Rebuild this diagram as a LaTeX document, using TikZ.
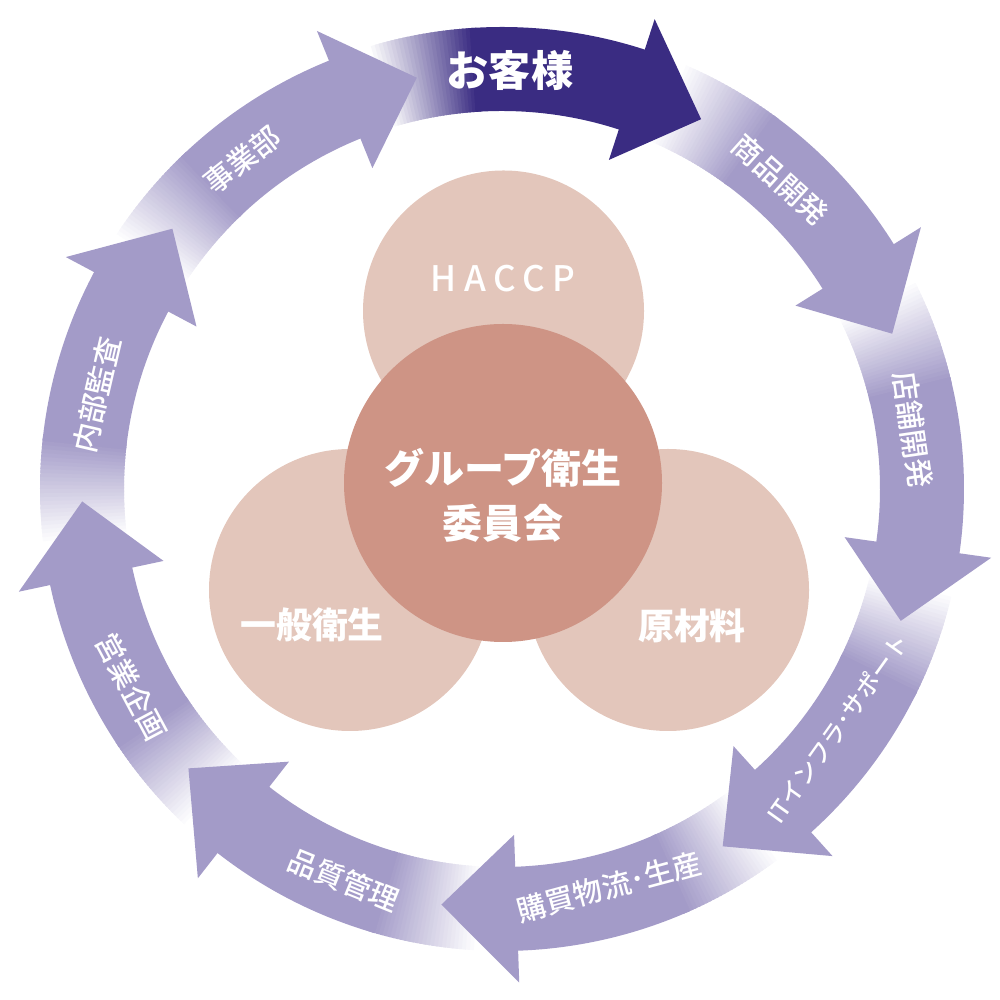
\documentclass[tikz,border=0pt]{standalone}
\usepackage{fontspec}
\setmainfont{Noto Sans CJK JP}
\newfontfamily\medfont{Noto Sans CJK JP Medium}
\newfontfamily\spacedfont[LetterSpace=22]{Noto Sans CJK JP Medium}

\definecolor{ringlav}{HTML}{A39BC8}
\definecolor{ringnavy}{HTML}{3A2C82}
\definecolor{petal}{HTML}{E3C6BB}
\definecolor{core}{HTML}{CE9485}

\newcommand{\ringin}{3.78}
\newcommand{\ringout}{4.62}

\tikzset{
  seglabel/.style={text=white, inner sep=0pt, font=\medfont\fontsize{8.3}{10}\selectfont},
  petallabel/.style={text=white, inner sep=0pt, font=\bfseries\fontsize{10.2}{12}\selectfont},
}

\begin{document}
\begin{tikzpicture}
  \useasboundingbox (-5.02,-5.11) rectangle (4.98,4.89);
  % ring bands, each one fading in from white at its tail
  \foreach \b/\col in {72/ringnavy,32/ringlav,-8/ringlav,-48/ringlav,-88/ringlav,-128/ringlav,-168/ringlav,-208/ringlav,-248/ringlav}{
    \foreach \j in {0,...,26}{
      \pgfmathsetmacro{\pct}{\j*100/26}
      \pgfmathsetmacro{\aa}{\b+35-\j/2}
      \pgfmathsetmacro{\ab}{\b+34.2-\j/2}
      \fill[\col!\pct!white] (\aa:\ringin) arc[start angle=\aa,end angle=\ab,radius=\ringin]
        -- (\ab:\ringout) arc[start angle=\ab,end angle=\aa,radius=\ringout] -- cycle;
    }
    \fill[\col] ({\b+22}:\ringin) arc[start angle=\b+22,end angle=\b-0.5,radius=\ringin]
      -- ({\b-0.5}:\ringout) arc[start angle=\b-0.5,end angle=\b+22,radius=\ringout] -- cycle;
  }
  % arrow heads
  \foreach \b/\col in {72/ringnavy,32/ringlav,-8/ringlav,-48/ringlav,-88/ringlav,-128/ringlav,-168/ringlav,-208/ringlav,-248/ringlav}{
    \fill[\col] (\b:3.46) -- (\b:4.94) -- ({\b-10.3}:4.20) -- cycle;
  }

  \fill[petal] (0.015,1.78) circle (1.405);
  \fill[petal] (-1.52,-1.01) circle (1.41);
  \fill[petal] (1.66,-1.01) circle (1.41);
  \fill[core] (0.01,0.06) circle (1.59);

  \node[seglabel, font=\bfseries\fontsize{12}{14}\selectfont] (okyaku) at (88.9:4.19) {お客様};
  \node[seglabel, rotate=-42] (shohin) at (48:4.16) {商品開発};
  \node[seglabel, rotate=-81.8] (tenpo) at (8.2:4.15) {店舗開発};
  \node[seglabel, rotate=54.5, font=\medfont\fontsize{6.8}{8}\selectfont] (itinfra) at (-35.5:4.12) {ITインフラ･サポート};
  \node[seglabel, rotate=15.1] (kobai) at (-74.9:4.12) {購買物流･生産};
  \node[seglabel, rotate=-22.1] (hinshitsu) at (-112.1:4.22) {品質管理};
  \node[seglabel, rotate=-61.9] (eigyo) at (-151.9:4.20) {営業企画};
  \node[seglabel, rotate=76.9] (naibu) at (166.9:4.16) {内部監査};
  \node[seglabel, rotate=38.3] (jigyo) at (128.3:4.19) {事業部};

  \node[text=white, inner sep=0pt, font=\spacedfont\fontsize{10}{12}\selectfont] (haccp) at (0.01,2.10) {HACCP};
  \node[petallabel] (ippan) at (-1.90,-1.36) {一般衛生};
  \node[petallabel] (genzai) at (1.90,-1.37) {原材料};
  \node[text=white, inner sep=0pt, align=center, font=\bfseries\fontsize{11.4}{15.6}\selectfont] (iinkai) at (0.01,-0.065) {グループ衛生\\委員会};
\end{tikzpicture}
\end{document}
